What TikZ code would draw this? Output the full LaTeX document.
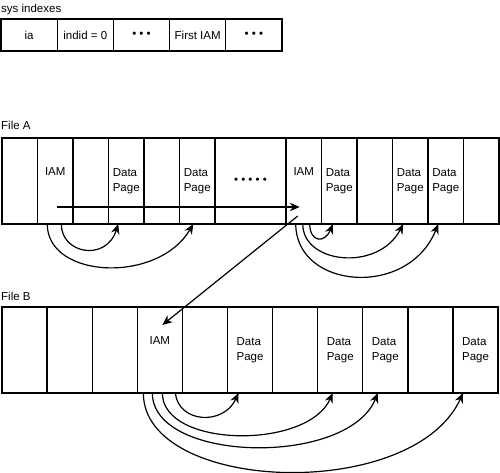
\documentclass[tikz,border=0pt]{standalone}
\usepackage{fontspec}
\setmainfont{Liberation Sans}
\usetikzlibrary{arrows.meta}

\begin{document}
\begin{tikzpicture}[x=1pt, y=1pt,
          cell/.style={draw, line width=1.3pt, outer sep=0pt, inner sep=0pt,
                       minimum height=86, align=left,
                       font=\fontsize{11.5}{15}\selectfont},
          syscell/.style={cell, minimum height=32, minimum width=56.2},
          cella/.style={cell, minimum width=35.5},
          cellb/.style={cell, minimum width=45.1},
          lbl/.style={anchor=west, inner sep=0pt, font=\fontsize{11.5}{14}\selectfont},
          arr/.style={-{Stealth[length=10pt, width=8.5pt]}, line width=1.2pt}
        ]
        \useasboundingbox (0,0) rectangle (500,-473);

        % sys indexes row
        \node[lbl] (syslbl) at (1,-10) {sys indexes};
        \node[syscell] (s0) at (29.1,-35)  {ia};
        \node[syscell] (s1) at (85.3,-35)  {indid = 0};
        \node[syscell] (s2) at (141.5,-35) {• • •};
        \node[syscell] (s3) at (197.7,-35) {First IAM};
        \node[syscell] (s4) at (253.9,-35) {• • •};

        % File A
        \node[lbl] (albl) at (1,-125) {File A};
        \node[cella] (a0)  at (19.75,-181)  {};
        \node[cella] (iamA) at (55.25,-181) {IAM\\\strut};
        \node[cella] (a2)  at (90.75,-181)  {};
        \node[cella] (dpA3) at (126.25,-181) {Data\\Page};
        \node[cella] (a4)  at (161.75,-181) {};
        \node[cella] (dpA5) at (197.25,-181) {Data\\Page};
        \node[cell, minimum width=71] (a6) at (250.5,-181) {• • • • •};
        \node[cella] (iamA2) at (303.75,-181) {IAM\\\strut};
        \node[cella] (dpA8) at (339.25,-181) {Data\\Page};
        \node[cella] (a9)  at (374.75,-181) {};
        \node[cella] (dpA10) at (410.25,-181) {Data\\Page};
        \node[cella] (dpA11) at (445.75,-181) {Data\\Page};
        \node[cella] (a12) at (481.25,-181) {};

        % File B
        \node[lbl] (blbl) at (1,-296) {File B};
        \node[cellb] (b0)  at (24.55,-350)  {};
        \node[cellb] (b1)  at (69.65,-350)  {};
        \node[cellb] (b2)  at (114.75,-350) {};
        \node[cellb] (iamB) at (159.85,-350) {IAM\\\strut};
        \node[cellb] (b4)  at (204.95,-350) {};
        \node[cellb] (dpB5) at (250.05,-350) {Data\\Page};
        \node[cellb] (b6)  at (295.15,-350) {};
        \node[cellb] (dpB7) at (340.25,-350) {Data\\Page};
        \node[cellb] (dpB8) at (385.35,-350) {Data\\Page};
        \node[cellb] (b9)  at (430.45,-350) {};
        \node[cellb] (dpB10) at (475.55,-350) {Data\\Page};

        % IAM chain
        \draw[arr] ([shift={(2,17)}]iamA.south) -- ([shift={(-4,17)}]iamA2.south);
        \draw[arr] ([shift={(-6,8)}]iamA2.south) -- ([shift={(2.5,-18)}]iamB.north);

        % File A page links
        \draw[arr] ([xshift=-8]iamA.south) .. controls +(0,-55) and +(-35,-60) .. ([xshift=-4]dpA5.south);
        \draw[arr] ([xshift=6]iamA.south) .. controls +(0,-30) and +(-12,-38) .. ([xshift=-8]dpA3.south);
        \draw[arr] ([xshift=-8]iamA2.south) .. controls +(0,-65) and +(-30,-75) .. ([xshift=-7.5]dpA11.south);
        \draw[arr] ([xshift=-1]iamA2.south) .. controls +(0,-40) and +(-25,-48) .. ([xshift=-7]dpA10.south);
        \draw[arr] ([xshift=6]iamA2.south) .. controls +(0,-18) and +(-8,-20) .. ([xshift=-6.5]dpA8.south);

        % File B page links
        \draw[arr] ([xshift=15.5]iamB.south) .. controls +(3,-30) and +(-15,-33) .. ([xshift=-11.5]dpB5.south);
        \draw[arr] ([xshift=2.5]iamB.south) .. controls +(0,-55) and +(-25,-57) .. ([xshift=-7.5]dpB7.south);
        \draw[arr] ([xshift=-7.5]iamB.south) .. controls +(0,-70) and +(-30,-74) .. ([xshift=-7.5]dpB8.south);
        \draw[arr] ([xshift=-16.5]iamB.south) .. controls +(0,-100) and +(-50,-110) .. ([xshift=-12.5]dpB10.south);
      \end{tikzpicture}
\end{document}
